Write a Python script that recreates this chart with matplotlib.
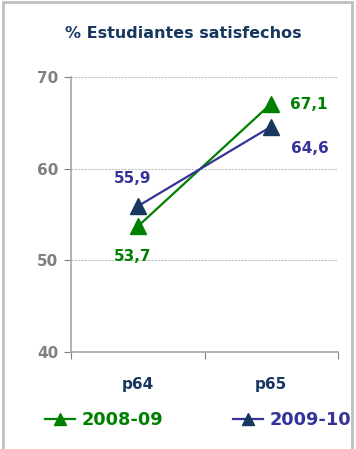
import matplotlib
matplotlib.use("Agg")
import matplotlib.pyplot as plt
from matplotlib.patches import Rectangle

categories = ["p64", "p65"]
series_names = ["2008-09", "2009-10"]
values_0809 = [53.7, 67.1]
values_0910 = [55.9, 64.6]
label_0809 = ["53,7", "67,1"]
label_0910 = ["55,9", "64,6"]
yticks = [40, 50, 60, 70]

W, H = 356, 449
fig = plt.figure(figsize=(W/100, H/100), dpi=100)
fig.patch.set_facecolor("white")
fig.add_artist(Rectangle((3/W, -0.1), (352-3)/W, 1.1 - 2/H, transform=fig.transFigure,
                         fill=False, edgecolor="#BFBFBF", linewidth=2))

ax = fig.add_axes([71/W, 1 - 352/H, (338-71)/W, (352-77)/H])
ax.set_xlim(0, 2)
ax.set_ylim(40, 70)
x = [0.5, 1.5]

green = "#008000"
blue_line = "#333399"
navy = "#17375E"
ax.plot(x, values_0809, color=green, lw=1.6, marker="^", markersize=11,
        markerfacecolor=green, markeredgecolor=green, zorder=3, label=series_names[0])
ax.plot(x, values_0910, color=blue_line, lw=1.6, marker="^", markersize=11,
        markerfacecolor=navy, markeredgecolor=navy, zorder=3, label=series_names[1])

fs = 11
ax.annotate(label_0809[0], (x[0], values_0809[0]), xytext=(-4, -22), textcoords="offset points",
            ha="center", va="center", color=green, fontsize=fs, fontweight="bold")
ax.annotate(label_0809[1], (x[1], values_0809[1]), xytext=(27, -1), textcoords="offset points",
            ha="center", va="center", color=green, fontsize=fs, fontweight="bold")
ax.annotate(label_0910[0], (x[0], values_0910[0]), xytext=(-4, 20), textcoords="offset points",
            ha="center", va="center", color=blue_line, fontsize=fs, fontweight="bold")
ax.annotate(label_0910[1], (x[1], values_0910[1]), xytext=(28, -16), textcoords="offset points",
            ha="center", va="center", color=blue_line, fontsize=fs, fontweight="bold")

ax.set_yticks(yticks)
ax.set_yticklabels([str(t) for t in yticks], color="#808080", fontsize=fs, fontweight="bold")
ax.set_xticks([0, 1, 2])
ax.set_xticklabels([])
ax.set_xticks(x, minor=True)
ax.set_xticklabels(categories, minor=True, color=navy, fontsize=fs, fontweight="bold")
ax.tick_params(axis="x", which="minor", length=0, pad=18)
ax.tick_params(axis="x", which="major", length=5, direction="out", color="#808080")
ax.tick_params(axis="y", length=5, direction="out", color="#808080", pad=4)
ax.yaxis.grid(True, color="#BFBFBF", linestyle=(0, (2, 1)), linewidth=0.8)
for s in ["top", "right"]:
    ax.spines[s].set_visible(False)
ax.spines["left"].set_color("#A6A6A6")
ax.spines["bottom"].set_color("#A6A6A6")
ax.spines["left"].set_linewidth(1.2)
ax.spines["bottom"].set_linewidth(1.2)

fig.text(183/W, 1 - 34/H, "% Estudiantes satisfechos", ha="center", va="center",
         color=navy, fontsize=11.5, fontweight="bold")

leg = fig.legend(loc="center", bbox_to_anchor=(198/W, 1 - 420/H), ncol=2, frameon=False,
                 handlelength=1.7, columnspacing=3.9, handletextpad=0.36,
                 borderpad=0, borderaxespad=0,
                 prop={"weight": "bold", "size": 12.8})
for txt, c in zip(leg.get_texts(), [green, blue_line]):
    txt.set_color(c)
for h in leg.legend_handles:
    h.set_markersize(8)

fig.savefig("out.png", dpi=100)
